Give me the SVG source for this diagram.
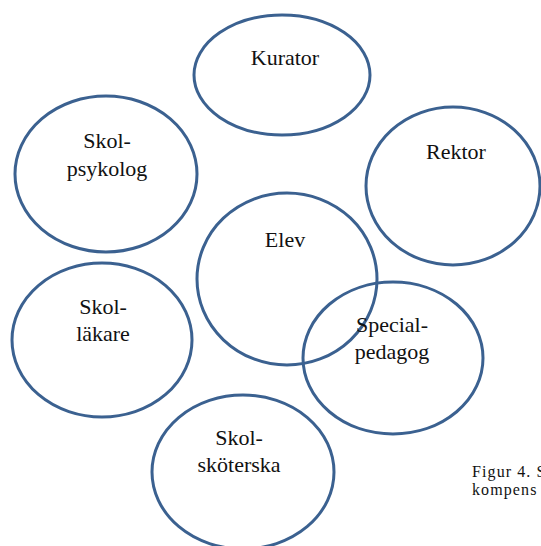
<svg xmlns="http://www.w3.org/2000/svg" width="541" height="546" viewBox="0 0 541 546">
<style>
.c{fill:none;stroke:#3b6190;stroke-width:3}
.t{font-family:'Times New Roman','Liberation Serif','DejaVu Serif',serif;font-size:22px;fill:#111;text-anchor:middle}
.f{font-family:'Times New Roman','Liberation Serif','DejaVu Serif',serif;font-size:16px;letter-spacing:1.1px;fill:#111}
</style>
<rect width="541" height="546" fill="#fff"/>
<g id="kurator"><ellipse class="c" cx="282" cy="75" rx="88" ry="60"/><text class="t" x="285" y="65">Kurator</text></g>
<g id="skolpsykolog"><ellipse class="c" cx="106" cy="174" rx="91" ry="78"/><text class="t" x="107" y="148">Skol-</text><text class="t" x="107" y="176">psykolog</text></g>
<g id="rektor"><ellipse class="c" cx="453" cy="186" rx="87" ry="79"/><text class="t" x="456" y="159">Rektor</text></g>
<g id="elev"><ellipse class="c" cx="287" cy="279" rx="90" ry="86"/><text class="t" x="285" y="247">Elev</text></g>
<g id="skollakare"><ellipse class="c" cx="102" cy="340" rx="90" ry="77"/><text class="t" x="103" y="314">Skol-</text><text class="t" x="103" y="341">läkare</text></g>
<g id="specialpedagog"><ellipse class="c" cx="393" cy="358" rx="90" ry="76"/><text class="t" x="392" y="332">Special-</text><text class="t" x="392" y="359">pedagog</text></g>
<g id="skolskoterska"><ellipse class="c" cx="243" cy="472" rx="91" ry="77"/><text class="t" x="239" y="445">Skol-</text><text class="t" x="239" y="472">sköterska</text></g>
<g id="caption"><text class="f" x="472" y="477">Figur 4. S</text><text class="f" x="472" y="495">kompens</text></g>
<g id="connectors"/>
</svg>
